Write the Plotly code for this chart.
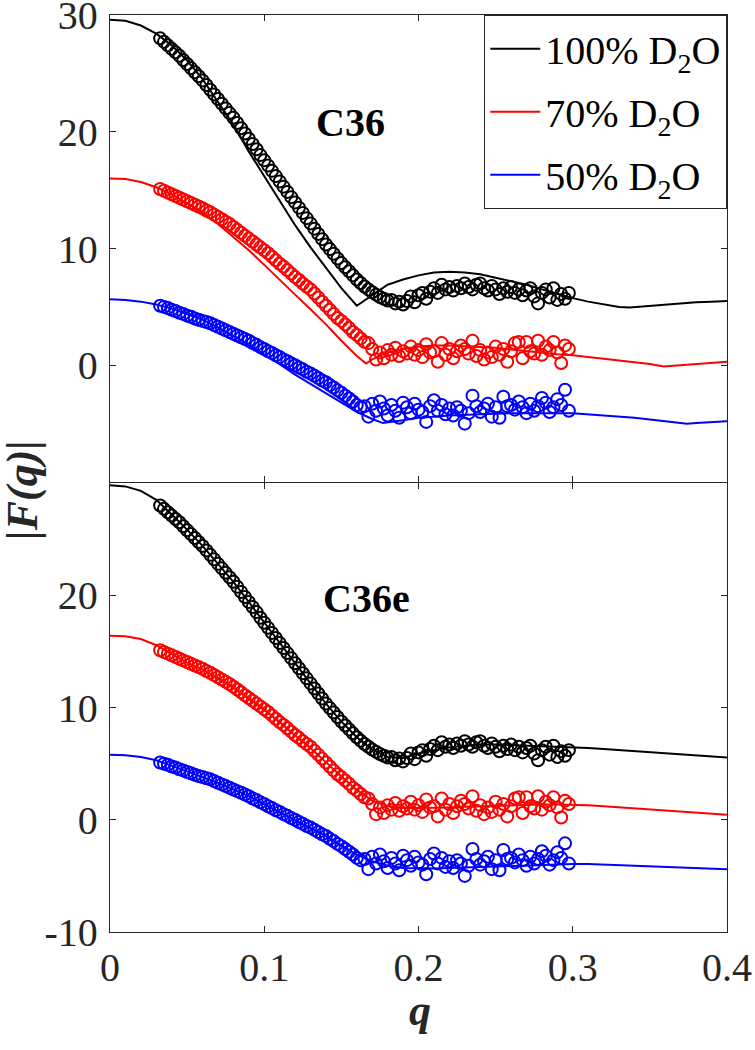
import plotly.graph_objects as go

# ---------------- data (measured points, shared by both panels) ----------------
q_data = [0.0325, 0.035, 0.0375, 0.04, 0.0425, 0.045, 0.0475, 0.05, 0.0525, 0.055,
          0.0575, 0.06, 0.0625, 0.065, 0.0675, 0.07, 0.0725, 0.075, 0.0775, 0.08,
          0.0825, 0.085, 0.0875, 0.09, 0.0925, 0.095, 0.0975, 0.1, 0.1025, 0.105,
          0.1075, 0.11, 0.1125, 0.115, 0.1175, 0.12, 0.1225, 0.125, 0.1275, 0.13,
          0.1325, 0.135, 0.1375, 0.14, 0.1425, 0.145, 0.1475, 0.15, 0.1525, 0.155,
          0.1575, 0.16, 0.1625, 0.165, 0.1675, 0.17, 0.1725, 0.175, 0.1775, 0.18,
          0.1825, 0.185, 0.1875, 0.19, 0.1925, 0.195, 0.1975, 0.2, 0.2025, 0.205,
          0.2075, 0.21, 0.2125, 0.215, 0.2175, 0.22, 0.2225, 0.225, 0.2275, 0.23,
          0.2325, 0.235, 0.2375, 0.24, 0.2425, 0.245, 0.2475, 0.25, 0.2525, 0.255,
          0.2575, 0.26, 0.2625, 0.265, 0.2675, 0.27, 0.2725, 0.275, 0.2775, 0.28,
          0.2825, 0.285, 0.2875, 0.29, 0.2925, 0.295, 0.2975]

f_100 = [28.0, 27.7, 27.4, 27.1, 26.8, 26.5, 26.15, 25.8, 25.45, 25.1,
         24.75, 24.4, 24.0, 23.6, 23.2, 22.8, 22.4, 22.0, 21.6, 21.2,
         20.75, 20.3, 19.85, 19.4, 18.95, 18.5, 18.0, 17.55, 17.1, 16.65,
         16.2, 15.75, 15.3, 14.85, 14.4, 13.95, 13.5, 13.05, 12.6, 12.15,
         11.7, 11.25, 10.8, 10.35, 9.95, 9.55, 9.15, 8.75, 8.4, 8.05,
         7.7, 7.35, 7.05, 6.75, 6.5, 6.25, 6.05, 5.85, 5.7, 5.55,
         5.6, 5.3, 5.45, 5.2, 5.5, 5.9, 5.4, 6.0, 6.2, 5.7,
         6.3, 6.6, 6.2, 6.9, 6.5, 6.7, 6.4, 6.8, 6.6, 7.0,
         6.7, 6.5, 6.9, 7.0, 6.6, 6.4, 6.8, 6.5, 6.1, 6.6,
         6.3, 6.7, 6.2, 6.5, 6.0, 6.4, 6.6, 5.9, 5.3, 6.2,
         6.5, 5.8, 6.6, 5.6, 6.1, 5.7, 6.2]

f_70 = [15.1, 14.95, 14.8, 14.65, 14.5, 14.35, 14.2, 14.05, 13.9, 13.75,
        13.6, 13.45, 13.25, 13.1, 12.9, 12.7, 12.5, 12.3, 12.1, 11.85,
        11.6, 11.35, 11.1, 10.85, 10.6, 10.35, 10.1, 9.85, 9.6, 9.3,
        9.0, 8.7, 8.45, 8.15, 7.85, 7.55, 7.3, 7.0, 6.75, 6.5,
        6.15, 5.8, 5.45, 5.1, 4.75, 4.4, 4.05, 3.8, 3.5, 3.2,
        2.85, 2.6, 2.3, 2.0, 1.9, 1.4, 0.5, 1.1, 0.6, 1.3,
        0.9, 1.5, 0.8, 1.2, 1.0, 1.6, 0.9, 1.3, 0.7, 1.8,
        1.1, 1.2, 0.3, 1.9, 0.9, 1.4, 0.6, 1.2, 1.7, 1.4,
        1.0, 2.1, 0.8, 1.3, 0.5, 1.1, 0.7, 1.6, 0.9, 1.4,
        0.3, 1.2, 1.9, 2.0, 0.6, 2.0, 1.2, 1.0, 2.1, 0.9,
        1.6, 1.3, 2.0, 1.1, 0.2, 1.7, 1.4]

f_50 = [5.1, 5.0, 4.9, 4.75, 4.65, 4.5, 4.4, 4.25, 4.15, 4.0,
        3.9, 3.8, 3.7, 3.6, 3.45, 3.3, 3.15, 3.0, 2.85, 2.7,
        2.55, 2.4, 2.25, 2.1, 1.9, 1.75, 1.55, 1.4, 1.2, 1.05,
        0.85, 0.7, 0.5, 0.35, 0.15, 0.0, -0.2, -0.35, -0.55, -0.7,
        -0.9, -1.1, -1.3, -1.45, -1.7, -1.9, -2.15, -2.35, -2.6, -2.85,
        -3.1, -3.4, -3.6, -3.5, -4.4, -3.3, -3.9, -3.1, -3.7, -4.3,
        -3.4, -3.9, -4.5, -3.2, -3.6, -4.1, -3.3, -3.8, -4.0, -4.85,
        -3.5, -3.0, -3.9, -3.4, -4.2, -3.7, -4.3, -3.6, -3.9, -5.0,
        -4.1, -2.6, -3.5, -4.0, -3.7, -3.3, -4.4, -3.6, -4.5, -2.7,
        -3.5, -3.4, -3.8, -3.1, -3.6, -4.1, -3.3, -3.9, -3.5, -2.8,
        -3.2, -4.0, -3.6, -2.9, -3.4, -2.1, -3.9]

# ---------------- model curves, C36 (top panel) ----------------
c36_q_100 = [0, 0.01, 0.02, 0.03, 0.04, 0.05, 0.06, 0.07, 0.08, 0.09,
             0.10, 0.11, 0.12, 0.13, 0.14, 0.15, 0.16, 0.17, 0.18, 0.19,
             0.20, 0.21, 0.22, 0.23, 0.24, 0.25, 0.26, 0.27, 0.28, 0.29,
             0.30, 0.31, 0.32, 0.33, 0.337, 0.35, 0.36, 0.37, 0.38, 0.39, 0.40]
c36_fit_100 = [29.6, 29.5, 29.1, 28.4, 27.4, 26.1, 24.5, 22.6, 20.6, 18.3,
               16.2, 14.1, 12.0, 10.1, 8.3, 6.6, 5.1, 6.0, 6.9, 7.35,
               7.7, 7.95, 8.0, 7.95, 7.8, 7.5, 7.2, 6.9, 6.5, 6.1,
               5.75, 5.45, 5.2, 5.0, 4.95, 5.1, 5.2, 5.3, 5.4, 5.45, 5.5]

c36_q_70 = [0, 0.01, 0.02, 0.03, 0.04, 0.05, 0.06, 0.07, 0.08, 0.09,
            0.10, 0.11, 0.12, 0.13, 0.14, 0.15, 0.16, 0.166, 0.17, 0.18,
            0.19, 0.20, 0.21, 0.22, 0.23, 0.24, 0.25, 0.26, 0.27, 0.28,
            0.29, 0.30, 0.31, 0.32, 0.33, 0.34, 0.35, 0.359, 0.37, 0.38, 0.39, 0.40]
c36_fit_70 = [16.0, 15.95, 15.7, 15.25, 14.65, 13.9, 13.1, 12.1, 11.0, 9.85,
              8.6, 7.3, 6.05, 4.8, 3.5, 2.1, 0.8, 0.15, 0.5, 1.1,
              1.4, 1.6, 1.7, 1.7, 1.65, 1.6, 1.5, 1.35, 1.2, 1.1,
              0.95, 0.85, 0.7, 0.55, 0.4, 0.25, 0.1, -0.1, 0.0, 0.1, 0.2, 0.3]

c36_q_50 = [0, 0.01, 0.02, 0.03, 0.04, 0.05, 0.06, 0.07, 0.08, 0.09,
            0.10, 0.11, 0.12, 0.13, 0.14, 0.15, 0.16, 0.17, 0.177, 0.19,
            0.20, 0.21, 0.22, 0.24, 0.26, 0.28, 0.30, 0.32, 0.34, 0.36,
            0.374, 0.38, 0.39, 0.40]
c36_fit_50 = [5.65, 5.6, 5.45, 5.2, 4.85, 4.4, 3.9, 3.25, 2.55, 1.75,
              0.95, 0.1, -0.8, -1.6, -2.4, -3.2, -4.0, -4.6, -4.95, -4.7,
              -4.5, -4.4, -4.3, -4.2, -4.1, -4.1, -4.1, -4.3, -4.5, -4.8,
              -5.0, -4.95, -4.85, -4.8]

# ---------------- model curves, C36e (bottom panel) ----------------
c36e_q = [0, 0.01, 0.02, 0.03, 0.04, 0.05, 0.06, 0.07, 0.08, 0.09,
          0.10, 0.11, 0.12, 0.13, 0.14, 0.15, 0.16, 0.17, 0.18, 0.19,
          0.20, 0.21, 0.22, 0.23, 0.24, 0.25, 0.26, 0.27, 0.28, 0.29,
          0.30, 0.31, 0.32, 0.33, 0.34, 0.35, 0.36, 0.37, 0.38, 0.39, 0.40]
c36e_fit_100 = [29.8, 29.7, 29.3, 28.5, 27.2, 25.85, 24.4, 22.8, 21.2, 19.4,
                17.55, 15.75, 13.95, 12.15, 10.35, 8.75, 7.35, 6.25, 5.6, 5.5,
                5.9, 6.2, 6.45, 6.6, 6.7, 6.7, 6.65, 6.6, 6.55, 6.5,
                6.5, 6.4, 6.3, 6.2, 6.1, 6.0, 5.95, 5.85, 5.75, 5.65, 5.55]
c36e_fit_70 = [16.4, 16.35, 16.1, 15.55, 14.75, 14.0, 13.4, 12.65, 11.8, 10.8,
               9.8, 8.7, 7.5, 6.4, 5.1, 3.85, 2.65, 1.7, 1.2, 1.05,
               1.05, 1.05, 1.1, 1.15, 1.2, 1.25, 1.3, 1.3, 1.35, 1.35,
               1.35, 1.3, 1.2, 1.1, 1.0, 0.95, 0.85, 0.75, 0.65, 0.55, 0.45]
c36e_fit_50 = [5.8, 5.75, 5.6, 5.3, 4.8, 4.3, 3.8, 3.3, 2.7, 2.1,
               1.4, 0.7, 0.0, -0.7, -1.45, -2.3, -3.1, -3.7, -4.1, -4.3,
               -4.35, -4.35, -4.3, -4.25, -4.2, -4.15, -4.1, -4.05, -4.0, -3.95,
               -3.95, -3.95, -4.0, -4.05, -4.1, -4.15, -4.2, -4.25, -4.3, -4.35, -4.4]

series_names = ["100% D<sub>2</sub>O", "70% D<sub>2</sub>O", "50% D<sub>2</sub>O"]
series_colors = ["#000000", "#FF0000", "#0000FF"]
x_ticks = [0, 0.1, 0.2, 0.3, 0.4]
x_ticktext = ["0", "0.1", "0.2", "0.3", "0.4"]
top_yticks = [0, 10, 20, 30]
top_yticktext = ["0", "10", "20", "30"]
bottom_yticks = [-10, 0, 10, 20]
bottom_yticktext = ["-10", "0", "10", "20"]

FONT = "Liberation Serif, Times New Roman, serif"
AXC = "#262626"

fig = go.Figure()

data_sets = [f_100, f_70, f_50]
top_fits = [(c36_q_100, c36_fit_100), (c36_q_70, c36_fit_70), (c36_q_50, c36_fit_50)]
bottom_fits = [(c36e_q, c36e_fit_100), (c36e_q, c36e_fit_70), (c36e_q, c36e_fit_50)]

# top panel (C36)
for i in range(3):
    qf, ff = top_fits[i]
    fig.add_trace(go.Scatter(x=qf, y=ff, mode="lines", name=series_names[i],
                             legendgroup="g%d" % i,
                             line=dict(color=series_colors[i], width=2),
                             xaxis="x2", yaxis="y2", showlegend=True))
for i in range(3):
    fig.add_trace(go.Scatter(x=q_data, y=data_sets[i], mode="markers",
                             marker=dict(symbol="circle-open", size=12,
                                         color=series_colors[i],
                                         line=dict(width=2, color=series_colors[i])),
                             xaxis="x2", yaxis="y2", showlegend=False))
# bottom panel (C36e)
for i in range(3):
    qf, ff = bottom_fits[i]
    fig.add_trace(go.Scatter(x=qf, y=ff, mode="lines",
                             line=dict(color=series_colors[i], width=2),
                             xaxis="x", yaxis="y", showlegend=False))
for i in range(3):
    fig.add_trace(go.Scatter(x=q_data, y=data_sets[i], mode="markers",
                             marker=dict(symbol="circle-open", size=12,
                                         color=series_colors[i],
                                         line=dict(width=2, color=series_colors[i])),
                             xaxis="x", yaxis="y", showlegend=False))

axis_common = dict(showline=True, linecolor=AXC, linewidth=1.3, mirror="ticks",
                   ticks="inside", ticklen=6, tickwidth=1.3, tickcolor=AXC,
                   showgrid=False, zeroline=False, automargin=False,
                   ticklabeloverflow="allow",
                   tickfont=dict(family=FONT, size=40, color=AXC))

fig.update_layout(
    width=755, height=1050,
    margin=dict(l=110, r=28, t=15, b=118),
    paper_bgcolor="white", plot_bgcolor="white",
    xaxis=dict(domain=[0, 1], anchor="y", range=[0, 0.4], tickvals=x_ticks,
               ticktext=x_ticktext, ticklabelstandoff=0, **axis_common),
    xaxis2=dict(domain=[0, 1], anchor="y2", range=[0, 0.4], tickvals=x_ticks,
                showticklabels=False, matches="x", **axis_common),
    yaxis=dict(domain=[0, 0.4896], anchor="x", range=[-10, 30],
               tickvals=bottom_yticks, ticktext=bottom_yticktext,
               ticklabelstandoff=3, **axis_common),
    yaxis2=dict(domain=[0.4907, 1], anchor="x2", range=[-10, 30],
                tickvals=top_yticks, ticktext=top_yticktext,
                ticklabelstandoff=3, **axis_common),
    legend=dict(x=1, y=1, xanchor="right", yanchor="top",
                bgcolor="white", bordercolor=AXC, borderwidth=1.3,
                font=dict(family=FONT, size=40, color="#000000"),
                tracegroupgap=8, itemwidth=50),
    showlegend=True,
)

fig.add_annotation(text="<b>C36</b>", x=0.1556, y=20.8, xref="x2", yref="y2",
                   showarrow=False, font=dict(family=FONT, size=40, color="#000000"),
                   xanchor="center", yanchor="middle")
fig.add_annotation(text="<b>C36e</b>", x=0.1666, y=19.7, xref="x", yref="y",
                   showarrow=False, font=dict(family=FONT, size=40, color="#000000"),
                   xanchor="center", yanchor="middle")
fig.add_annotation(text="<b><i>|F(q)|</i></b>", x=-0.1426, y=0.482,
                   xref="paper", yref="paper", textangle=-90, showarrow=False,
                   font=dict(family=FONT, size=44, color=AXC),
                   xanchor="center", yanchor="middle")
fig.add_annotation(text="<b><i>q</i></b>", x=0.503, y=-0.086,
                   xref="paper", yref="paper", showarrow=False,
                   font=dict(family=FONT, size=44, color=AXC),
                   xanchor="center", yanchor="middle")

fig.write_html("out.html",
               config={"displayModeBar": False},
               post_script="document.body.style.margin='0px';document.body.style.overflow='hidden';")
